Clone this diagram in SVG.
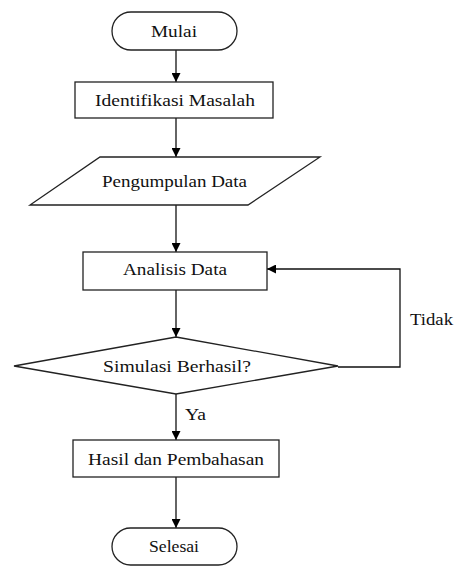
<svg xmlns="http://www.w3.org/2000/svg" width="459" height="566" viewBox="0 0 459 566">
<style>
.s{fill:#fff;stroke:#222;stroke-width:1.3}
.c{fill:none;stroke:#111;stroke-width:1.3}
</style>
<defs>
<marker id="ah" viewBox="0 0 10 10" refX="10" refY="5" markerWidth="9" markerHeight="9" markerUnits="userSpaceOnUse" orient="auto">
<path d="M0,0 L10,5 L0,10 z" fill="#000"/>
</marker>
</defs>
<rect width="459" height="566" fill="#fff"/>
<g font-family="Times New Roman, Liberation Serif, DejaVu Serif, serif" font-size="17" fill="#111">
<g id="connectors">
<line class="c" x1="176" y1="50" x2="176" y2="82" marker-end="url(#ah)"/>
<line class="c" x1="176" y1="118" x2="176" y2="157" marker-end="url(#ah)"/>
<line class="c" x1="176" y1="205" x2="176" y2="252" marker-end="url(#ah)"/>
<line class="c" x1="176" y1="290" x2="176" y2="337" marker-end="url(#ah)"/>
<line class="c" x1="176" y1="394" x2="176" y2="440" marker-end="url(#ah)"/>
<line class="c" x1="176" y1="477" x2="176" y2="528" marker-end="url(#ah)"/>
<polyline class="c" points="338,367 400,367 400,269 267,269" marker-end="url(#ah)"/>
<text x="410" y="325" textLength="43" lengthAdjust="spacingAndGlyphs">Tidak</text>
<text x="185" y="420" textLength="21" lengthAdjust="spacingAndGlyphs">Ya</text>
</g>
<g id="mulai" text-anchor="middle">
<rect class="s" x="112" y="12" width="125" height="38" rx="19"/>
<text x="174" y="37" textLength="46" lengthAdjust="spacingAndGlyphs">Mulai</text>
</g>
<g id="identifikasi" text-anchor="middle">
<rect class="s" x="75" y="82" width="198" height="36"/>
<text x="175" y="106" textLength="160" lengthAdjust="spacingAndGlyphs">Identifikasi Masalah</text>
</g>
<g id="pengumpulan" text-anchor="middle">
<polygon class="s" points="100,157 320,157 248,205 30,205"/>
<text x="174.5" y="187" textLength="145" lengthAdjust="spacingAndGlyphs">Pengumpulan Data</text>
</g>
<g id="analisis" text-anchor="middle">
<rect class="s" x="83" y="252" width="184" height="38"/>
<text x="175" y="275" textLength="104" lengthAdjust="spacingAndGlyphs">Analisis Data</text>
</g>
<g id="simulasi" text-anchor="middle">
<polygon class="s" points="176,337 338,366 176,394 14,366"/>
<text x="177" y="372" textLength="148" lengthAdjust="spacingAndGlyphs">Simulasi Berhasil?</text>
</g>
<g id="hasil" text-anchor="middle">
<rect class="s" x="73" y="440" width="206" height="37"/>
<text x="176" y="465" textLength="176" lengthAdjust="spacingAndGlyphs">Hasil dan Pembahasan</text>
</g>
<g id="selesai" text-anchor="middle">
<rect class="s" x="112" y="528" width="125" height="37" rx="18.5"/>
<text x="174" y="552" textLength="50" lengthAdjust="spacingAndGlyphs">Selesai</text>
</g>
</g>
</svg>
